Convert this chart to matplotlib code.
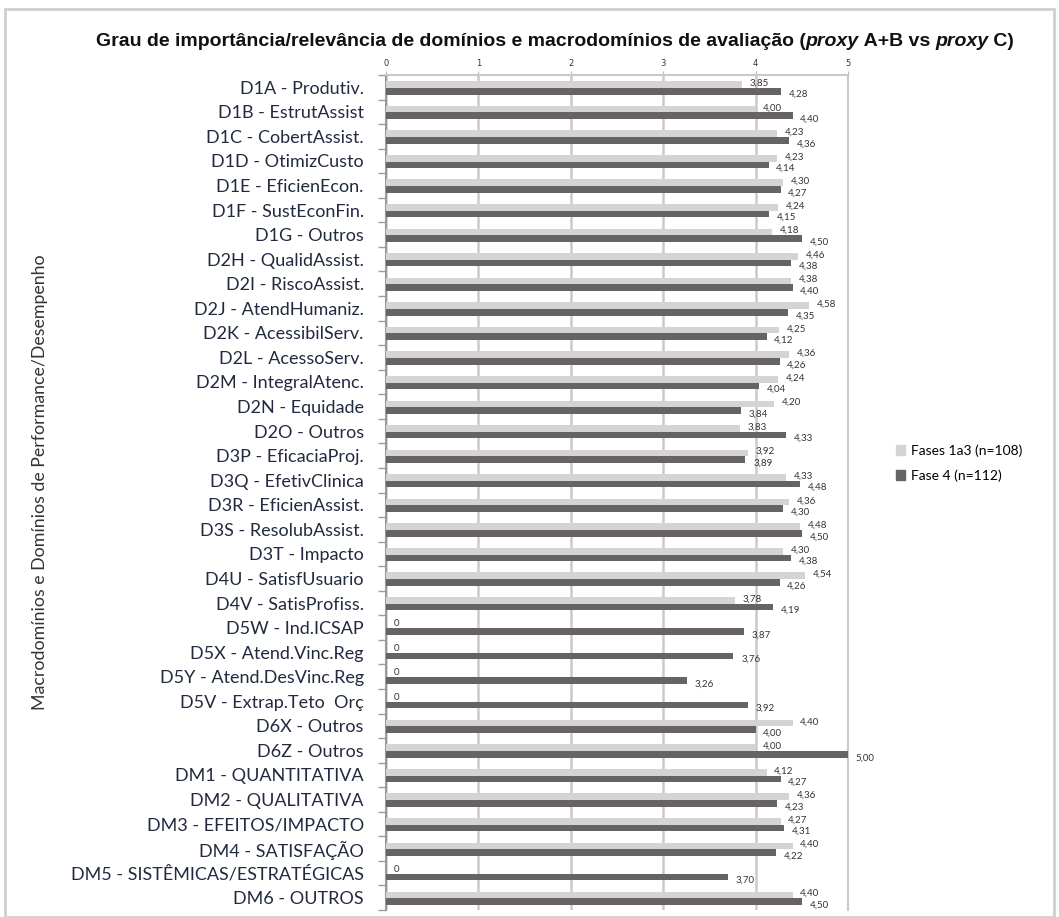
import numpy as np
import matplotlib
matplotlib.use("Agg")
import matplotlib.pyplot as plt
from matplotlib.patches import Rectangle, Patch

categorias = ["D1A - Produtiv.", "D1B - EstrutAssist", "D1C - CobertAssist.", "D1D - OtimizCusto",
              "D1E - EficienEcon.", "D1F - SustEconFin.", "D1G - Outros", "D2H - QualidAssist.",
              "D2I - RiscoAssist.", "D2J - AtendHumaniz.", "D2K - AcessibilServ.", "D2L - AcessoServ.",
              "D2M - IntegralAtenc.", "D2N - Equidade", "D2O - Outros", "D3P - EficaciaProj.",
              "D3Q - EfetivClinica", "D3R - EficienAssist.", "D3S - ResolubAssist.", "D3T - Impacto",
              "D4U - SatisfUsuario", "D4V - SatisProfiss.", "D5W - Ind.ICSAP", "D5X - Atend.Vinc.Reg",
              "D5Y - Atend.DesVinc.Reg", "D5V - Extrap.Teto  Orç", "D6X - Outros", "D6Z - Outros",
              "DM1 - QUANTITATIVA", "DM2 - QUALITATIVA", "DM3 - EFEITOS/IMPACTO", "DM4 - SATISFAÇÃO",
              "DM5 - SISTÊMICAS/ESTRATÉGICAS", "DM6 - OUTROS"]

fases_1a3 = [3.85, 4.00, 4.23, 4.23, 4.30, 4.24, 4.18, 4.46, 4.38, 4.58, 4.25, 4.36, 4.24, 4.20,
             3.83, 3.92, 4.33, 4.36, 4.48, 4.30, 4.54, 3.78, 0, 0, 0, 0, 4.40, 4.00,
             4.12, 4.36, 4.27, 4.40, 0, 4.40]
fase_4 = [4.28, 4.40, 4.36, 4.14, 4.27, 4.15, 4.50, 4.38, 4.40, 4.35, 4.12, 4.26, 4.04, 3.84,
          4.33, 3.89, 4.48, 4.30, 4.50, 4.38, 4.26, 4.19, 3.87, 3.76, 3.26, 3.92, 4.00, 5.00,
          4.27, 4.23, 4.31, 4.22, 3.70, 4.50]

cor_clara = "#d4d4d4"
cor_escura = "#686363"
fonte = ["Lato", "DejaVu Sans"]


def fmt(v):
    return "0" if v == 0 else f"{v:.2f}".replace(".", ",")


fig = plt.figure(figsize=(10.59, 9.17), dpi=100)
W, H = 1059, 917
fig.patches.append(Rectangle((5 / W, 0), 1049 / W, 1 - 9 / H, transform=fig.transFigure,
                             fill=False, edgecolor="#cfcfcf", linewidth=2))

ax = fig.add_axes([386 / W, 1 - 910 / H, (848 - 386) / W, (910 - 75) / H])
y = np.arange(len(categorias))
h = 0.27
ax.barh(y - 0.11, fases_1a3, height=h, color=cor_clara, zorder=3)
ax.barh(y + 0.16, fase_4, height=h, color=cor_escura, zorder=3)

for i in range(len(categorias)):
    ax.annotate(fmt(fases_1a3[i]), (fases_1a3[i], y[i] - 0.11), xytext=(5.5, 1),
                textcoords="offset points", fontsize=7, color="#333333", ha="left",
                va="center", family=fonte, zorder=4)
    ax.annotate(fmt(fase_4[i]), (fase_4[i], y[i] + 0.16), xytext=(5.5, -2.5),
                textcoords="offset points", fontsize=7, color="#333333", ha="left",
                va="center", family=fonte, zorder=4)

ax.set_xlim(0, 5)
ax.set_ylim(len(categorias) - 0.5, -0.5)
ax.xaxis.tick_top()
ax.set_xticks(range(6))
ax.tick_params(axis="x", labelsize=6, length=3, color="#bbbbbb", pad=2, labelcolor="#333333")
ax.grid(axis="x", color="#cacaca", linewidth=1.8, zorder=0)
ax.set_yticks(y)
ax.set_yticklabels(categorias, family=fonte, fontsize=13, color="#222a40")
ax.set_yticks(np.arange(len(categorias) + 1) - 0.5, minor=True)
ax.tick_params(axis="y", which="major", length=0, pad=16)
ax.tick_params(axis="y", which="minor", length=6, color="#9a9a9a", width=1)
for s in ["top", "right", "left"]:
    ax.spines[s].set_color("#c9c9c9")
    ax.spines[s].set_linewidth(1.5)
ax.spines["left"].set_color("#9a9a9a")
ax.spines["bottom"].set_visible(False)

handles = [Patch(color=cor_clara), Patch(color=cor_escura)]
fig.legend(handles, ["Fases 1a3 (n=108)", "Fase 4 (n=112)"], loc="center left",
           bbox_to_anchor=(883 / W, 1 - 463 / H), frameon=False, handlelength=0.7,
           handleheight=0.7, handletextpad=0.4, labelspacing=0.9,
           prop={"family": fonte, "size": 10})

fig.text(40 / W, 1 - 482 / H, "Macrodomínios e Domínios de Performance/Desempenho",
         rotation=90, ha="center", va="center", fontsize=12.8, family=fonte, color="#333333")

# titulo com partes em italico
partes = [("Grau de importância/relevância de domínios e macrodomínios de avaliação (", "normal"),
          ("proxy", "italic"), (" A+B vs ", "normal"), ("proxy", "italic"), (" C)", "normal")]
fam_titulo = ["Liberation Sans Narrow", "Liberation Sans"]
r = fig.canvas.get_renderer()
textos = []
for s, st in partes:
    t = fig.text(0, 1 - 42 / H, s, fontsize=14, fontweight="bold", style=st,
                 family=fam_titulo, va="center", ha="left", color="#111111")
    textos.append(t)
larg = [t.get_window_extent(r).width for t in textos]
x0 = 555 - sum(larg) / 2
for t, w in zip(textos, larg):
    t.set_x(x0 / W)
    x0 += w

fig.savefig("out.png", dpi=100)
